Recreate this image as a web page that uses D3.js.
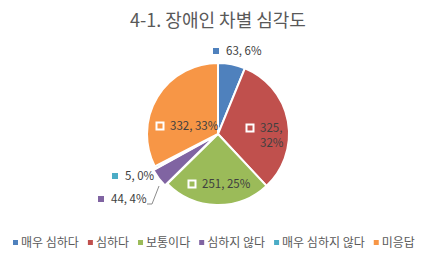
<!DOCTYPE html>
<html>
<head>
<meta charset="utf-8">
<script src="https://cdn.jsdelivr.net/npm/d3@7"></script>
<style>
  body { margin: 0; background: #fff; }
  text { font-family: "Noto Sans CJK KR", "Noto Sans", sans-serif; font-weight: 400; }
</style>
</head>
<body>
<div id="chart"></div>
<script>
var width = 436, height = 258;

// données du graphique
var categories = ["매우 심하다", "심하다", "보통이다", "심하지 않다", "매우 심하지 않다", "미응답"];
var counts = [63, 325, 251, 44, 5, 332];
var percents = [6, 32, 25, 4, 0, 33];
var colors = ["#4F81BD", "#C0504D", "#9BBB59", "#8064A2", "#4BACC6", "#F79646"];
var title = "4-1. 장애인 차별 심각도";

var cx = 218, cy = 134, radius = 71;

var svg = d3.select("#chart").append("svg")
    .attr("width", width)
    .attr("height", height);

// titre
svg.append("text")
    .attr("x", 218)
    .attr("y", 27)
    .attr("text-anchor", "middle")
    .style("font-size", "18px")
    .style("fill", "#595959")
    .text(title);

var pie = d3.pie().sort(null).value(function(d) { return d; });
var arcs = pie(counts);
var arc = d3.arc().innerRadius(0).outerRadius(radius);

var g = svg.append("g").attr("transform", "translate(" + cx + "," + cy + ")");

g.selectAll("path")
    .data(arcs)
    .enter().append("path")
    .attr("d", arc)
    .attr("transform", function(d, i) {
        if (i != 3) return null;
        var a = (d.startAngle + d.endAngle) / 2;
        return "translate(" + (Math.sin(a) * 3) + "," + (-Math.cos(a) * 3) + ")";
    })
    .attr("fill", function(d, i) { return colors[i]; })
    .attr("stroke", "#fff")
    .attr("stroke-width", 2);

// position des étiquettes (relatives au centre)
var labelPos = [
    {x: -2, y: -83, inside: false, lines: ["63, 6%"]},
    {x: 32, y: -6, inside: true, lines: ["325,", "32%"]},
    {x: -26, y: 50, inside: true, lines: ["251, 25%"]},
    {x: -117, y: 65, inside: false, lines: ["44, 4%"]},
    {x: -103, y: 42, inside: false, lines: ["5, 0%"]},
    {x: -58, y: -8, inside: true, lines: ["332, 33%"]}
];

// ligne de rappel pour 44, 4%
g.append("path")
    .attr("d", "M-71,70 L-66,70 L-59,52")
    .attr("fill", "none")
    .attr("stroke", "#8C8C8C")
    .attr("stroke-width", 1);

labelPos.forEach(function(p, i) {
    var lg = g.append("g");
    if (p.inside) {
        lg.append("rect")
            .attr("x", p.x - 3.5).attr("y", p.y - 3.5)
            .attr("width", 7).attr("height", 7)
            .attr("fill", colors[i])
            .attr("stroke", "#fff")
            .attr("stroke-width", 2);
    } else {
        lg.append("rect")
            .attr("x", p.x - 3).attr("y", p.y - 3)
            .attr("width", 6).attr("height", 6)
            .attr("fill", colors[i]);
    }
    p.lines.forEach(function(t, j) {
        lg.append("text")
            .attr("x", p.x + 10)
            .attr("y", p.y + 4 + j * 15)
            .style("font-size", "11.5px")
            .style("fill", "#404040")
            .text(t);
    });
});

// légende
var legend = svg.append("g");
var lx = 13, ly = 243;
categories.forEach(function(c, i) {
    legend.append("rect")
        .attr("x", lx).attr("y", ly - 3)
        .attr("width", 5).attr("height", 5)
        .attr("fill", colors[i]);
    var t = legend.append("text")
        .attr("x", lx + 8)
        .attr("y", ly + 4)
        .style("font-size", "12px")
        .style("fill", "#595959")
        .text(c);
    lx += 8 + t.node().getComputedTextLength() + 9;
});
</script>
</body>
</html>
